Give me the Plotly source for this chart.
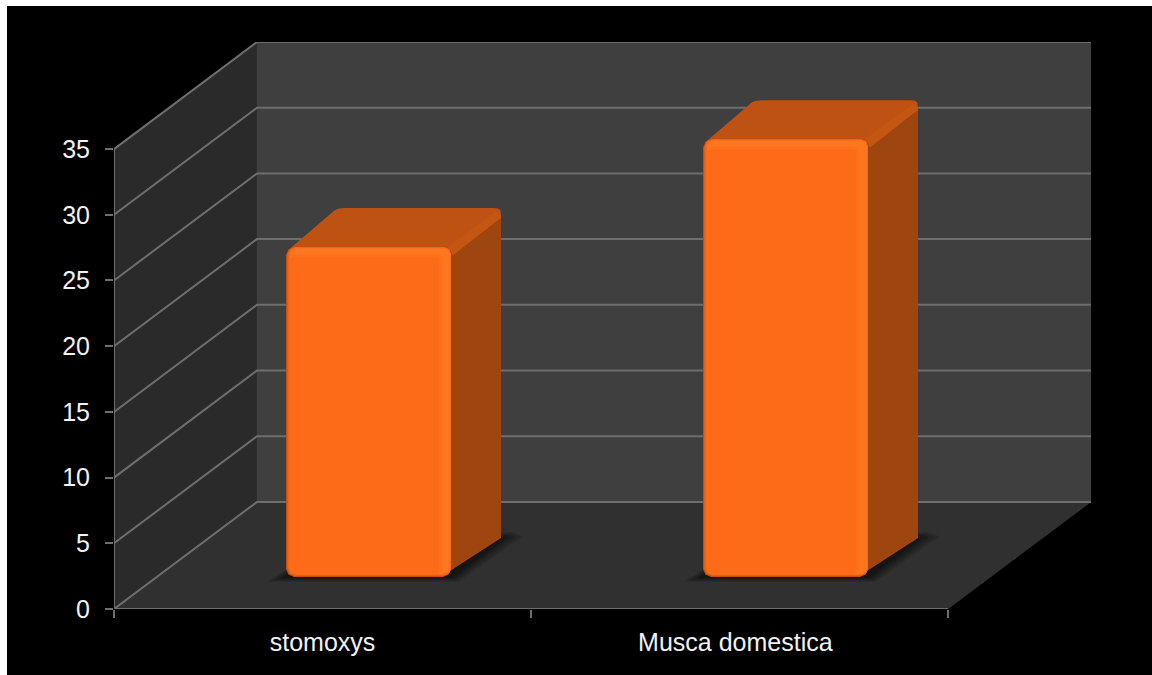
import plotly.graph_objects as go

categories = ["stomoxys", "Musca domestica"]
values = [25.1, 33.3]
y_ticks = [0, 5, 10, 15, 20, 25, 30, 35]
label_positions = [0.5, 1.49]
x_ticks = [0, 1, 2]

# scales of the oblique projection
PX_CAT = 1 / 417.0      # category units per pixel
PX_VAL = 1 / 13.13      # value units per pixel
DX = 143 * PX_CAT       # depth of the box, on screen
DY = 107 * PX_VAL
Y_MAX = 35
N = len(categories)

BAR_HALF = 82.5 * PX_CAT
FLOOR_X, FLOOR_Y = 46 * PX_CAT, 32 * PX_VAL     # bar front plane
DEPTH_X, DEPTH_Y = 50 * PX_CAT, 39 * PX_VAL     # bar depth

GRID = "#6e6e6e"
fig = go.Figure()


def poly(xs, ys, color, line=None):
    fig.add_trace(go.Scatter(
        x=list(xs) + [xs[0]], y=list(ys) + [ys[0]], mode="lines", fill="toself",
        fillcolor=color, line=dict(width=0.5 if line is None else line, color=color),
        hoverinfo="skip", showlegend=False, cliponaxis=False))


def seg(xs, ys, color=GRID, width=2):
    fig.add_trace(go.Scatter(
        x=xs, y=ys, mode="lines", line=dict(color=color, width=width),
        hoverinfo="skip", showlegend=False, cliponaxis=False))


def rrect(x0, x1, y0, y1, r):
    """rounded rectangle polygon; r in pixels"""
    rx, ry = r * PX_CAT, r * PX_VAL
    k = 0.3
    xs = [x0 + rx, x1 - rx, x1 - k * rx, x1, x1, x1 - k * rx, x1 - rx, x0 + rx, x0 + k * rx, x0, x0, x0 + k * rx]
    ys = [y0, y0, y0 + k * ry, y0 + ry, y1 - ry, y1 - k * ry, y1, y1, y1 - k * ry, y1 - ry, y0 + ry, y0 + k * ry]
    return xs, ys


# walls and floor
poly([0, DX, DX, 0], [0, DY, Y_MAX + DY, Y_MAX], "#2a2a2a")
poly([DX, N + DX, N + DX, DX], [DY, DY, Y_MAX + DY, Y_MAX + DY], "#3f3f3f")
poly([0, N, N + DX, DX], [0, 0, DY, DY], "#303030")

# gridlines
for t in y_ticks:
    seg([0, DX, N + DX], [t, t + DY, t + DY])
seg([0, 0], [0, Y_MAX])
seg([0, N], [0, 0])

# bars
for i, v in enumerate(values):
    c = i + 0.5 + FLOOR_X
    x0, x1 = c - BAR_HALF, c + BAR_HALF
    y0, y1 = FLOOR_Y, FLOOR_Y + v
    dx, dy = DEPTH_X, DEPTH_Y

    # soft shadow on the floor
    for k in range(14, 0, -1):
        s = k / 14
        l, r, b = 20 * s * PX_CAT, 24 * s * PX_CAT, 5 * s * PX_VAL
        poly([x0 - l, x1 + 8 * s * PX_CAT, x1 + dx + 0.5 * r, x1 + dx + r, x1 + dx + 0.5 * r, x0 + dx],
             [y0 - b, y0 - b, y0 + dy - 6 * s * PX_VAL, y0 + dy + 1 * PX_VAL, y0 + dy + 6 * s * PX_VAL, y0 + dy],
             "rgba(0,0,0,0.045)", 0)

    # side face
    poly([x1 - 6 * PX_CAT, x1 + dx, x1 + dx, x1 + dx - 6 * PX_CAT, x1 - 6 * PX_CAT],
         [y0 + 0.2, y0 + dy, y1 + dy - 8 * PX_VAL, y1 + dy, y1], "#9f4510", 0)
    # top face
    e = 1 * PX_CAT
    f = 1 * PX_VAL
    poly([x0 + 2 * e, x0 + dx - 4 * e, x0 + dx - 1 * e, x0 + dx + 3 * e, x0 + dx + 9 * e,
          x1 + dx - 8 * e, x1 + dx - 3 * e, x1 + dx - 0.5 * e, x1 + dx, x1 + dx, x1, x0 + 6 * e],
         [y1 - 3 * f, y1 + dy - 4 * f, y1 + dy - 2 * f, y1 + dy - 0.5 * f, y1 + dy,
          y1 + dy, y1 + dy - 0.5 * f, y1 + dy - 2.5 * f, y1 + dy - 6 * f, y1 + dy - 10 * f, y1 - 2 * f, y1 - 2 * f],
         "#be5212", 0)
    # highlight along the top right edge
    poly([x1 - 3 * e, x1 + dx - 5 * e, x1 + dx - 0.5 * e, x1 + dx, x1 + 2 * e],
         [y1 + 0.5 * f, y1 + dy - 3.5 * f, y1 + dy - 6 * f, y1 + dy - 9.5 * f, y1 - 8 * f],
         "#c45613", 0)

    # front face built as nested rounded rectangles (bevel)
    layers = [(0, 0, 0, 0, "#c2500e"), (1, 0, 0, 1, "#e25e10"), (2, 0, 0, 2, "#f26512"),
              (3, 0, 0, 2, "#fa6a16"), (4, 1, 1, 3, "#fe7720"), (4, 9, 7, 3, "#fe7119"),
              (4, 12, 10, 3, "#fd6a18")]
    for a, b, t, u, col in layers:
        xs, ys = rrect(x0 + a * PX_CAT, x1 - b * PX_CAT, y0 + u * PX_VAL, y1 - t * PX_VAL,
                       max(8 - max(a, t) * 0.5, 3))
        poly(xs, ys, col, 0)

W, H = 1152, 675
ML, MR, MT, MB = 114, 61, 42, 66
PW, PH = W - ML - MR, H - MT - MB

fig.update_layout(
    width=W, height=H,
    margin=dict(l=ML, r=MR, t=MT, b=MB, autoexpand=False),
    paper_bgcolor="#ffffff", plot_bgcolor="rgba(0,0,0,0)",
    font=dict(family="Liberation Sans", size=25, color="#f2f2f2"),
    showlegend=False,
    shapes=[dict(type="rect", layer="below", xref="paper", yref="paper", line_width=0,
                 fillcolor="#000000",
                 x0=(7 - ML) / PW, x1=(W - ML) / PW,
                 y0=-MB / PH, y1=(H - MB - 6) / PH)],
    xaxis=dict(range=[0, N + DX], tickmode="array", tickvals=label_positions, ticktext=categories,
               showgrid=False, zeroline=False, showline=False, ticks="", ticklabelstandoff=16,
               minor=dict(tickmode="array", tickvals=x_ticks, ticks="outside", ticklen=8,
                          tickwidth=2, tickcolor=GRID, showgrid=False)),
    yaxis=dict(range=[0, Y_MAX + DY], tickmode="array", tickvals=y_ticks,
               showgrid=False, zeroline=False, showline=False, ticks="outside", ticklen=8,
               tickwidth=2, tickcolor=GRID, ticklabelstandoff=10),
)

fig.write_html("out.html", config={"displayModeBar": False},
               post_script="document.body.style.margin='0';")
